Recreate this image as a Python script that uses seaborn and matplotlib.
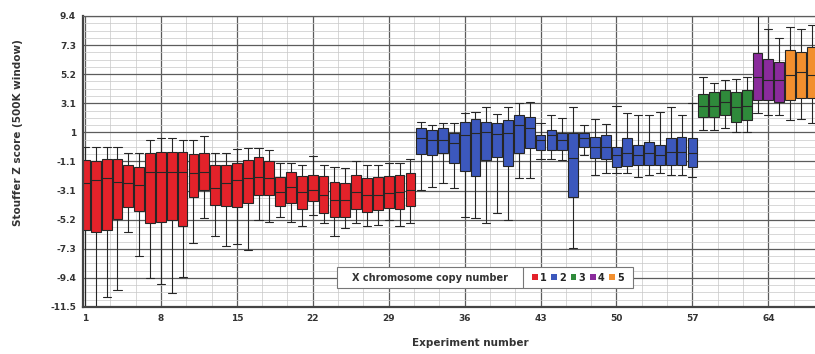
import pandas as pd
import numpy as np
import matplotlib.pyplot as plt
import matplotlib.ticker as mticker
from matplotlib.patches import Patch, Rectangle
import seaborn as sns

# Box summaries (experiment 1..68)
experiments = list(range(1, 69))
copy_number = ["1"] * 31 + ["2"] * 26 + ["3"] * 5 + ["4"] * 3 + ["5"] * 3

whisker_high = [0.0, 0.0, 0.0, 0.0, -0.44, -0.44, 0.49, 0.64, 0.64, 0.49,
                0.49, 0.78, -0.44, -0.44, -0.15, -0.08, -0.08, -0.23, -1.16, -1.16,
                -1.3, -0.66, -1.3, -1.45, -1.5, -1.0, -1.3, -1.3, -1.16, -1.16,
                -0.87,
                1.8, 1.57, 1.71, 1.71, 2.43, 2.5, 2.86, 2.36, 2.86, 3.15,
                3.22, 1.71, 2.3, 2.07, 2.86, 1.57, 2.0, 1.64, 2.93, 2.43,
                2.3, 2.3, 2.5, 2.86, 2.3, 3.15,
                5.02, 4.6, 4.8, 4.87, 5.02,
                9.4, 8.47, 7.82,
                8.6, 8.47, 8.75]
q3 = [-0.94, -1.0, -0.87, -0.87, -1.3, -1.45, -0.44, -0.37, -0.37, -0.37,
      -0.51, -0.44, -1.3, -1.3, -1.16, -0.94, -0.73, -1.0, -2.17, -1.8,
      -2.1, -2.0, -2.1, -2.5, -2.6, -2.0, -2.24, -2.17, -2.1, -2.0,
      -1.88,
      1.35, 1.2, 1.35, 1.0, 1.8, 2.0, 1.8, 1.71, 1.93, 2.3,
      2.15, 0.85, 1.2, 1.0, 1.0, 1.0, 0.71, 0.85, -0.01, 0.64,
      0.13, 0.35, 0.13, 0.64, 0.71, 0.64,
      3.8, 3.94, 4.08, 3.94, 4.08,
      6.74, 6.3, 6.1,
      6.96, 6.8, 7.17]
median = [-2.6, -2.4, -2.24, -2.5, -2.6, -2.74, -1.8, -1.8, -1.8, -1.8,
          -1.9, -1.8, -2.96, -2.6, -2.4, -2.24, -2.17, -2.24, -3.24, -2.9,
          -3.24, -3.1, -3.46, -3.8, -3.8, -3.24, -3.46, -3.46, -3.3, -3.24,
          -3.1,
          0.64, 0.49, 0.49, 0.28, 0.85, 1.0, 1.07, 0.92, 1.0, 1.57,
          1.35, 0.49, 0.85, 0.49, -0.8, 0.64, -0.01, 0.0, -0.58, -0.44,
          -0.58, -0.44, -0.58, -0.37, -0.37, -0.44,
          2.93, 2.93, 3.22, 2.86, 2.93,
          5.02, 4.8, 4.8,
          5.16, 5.38, 5.16]
q1 = [-5.97, -6.1, -5.97, -5.2, -4.3, -4.6, -5.47, -5.4, -5.25, -5.7,
      -3.6, -3.1, -4.2, -4.25, -4.3, -4.03, -3.46, -3.46, -4.25, -4.03,
      -4.46, -3.9, -4.75, -5.04, -5.04, -4.46, -4.68, -4.54, -4.4, -4.46,
      -4.25,
      -0.51, -0.59, -0.44, -1.16, -1.74, -2.1, -0.94, -0.73, -1.38, -0.44,
      -0.08, -0.23, -0.23, -0.23, -3.6, -0.01, -0.8, -0.87, -1.45, -1.38,
      -1.3, -1.3, -1.3, -1.3, -1.3, -1.45,
      2.14, 2.14, 2.29, 1.78, 1.93,
      3.37, 3.37, 3.22,
      3.37, 3.5, 3.5]
whisker_low = [-11.5, -11.5, -10.8, -10.3, -6.1, -7.84, -9.42, -9.85, -10.5, -9.35,
               -6.9, -5.1, -6.4, -7.1, -7.0, -7.4, -5.26, -5.4, -5.04, -5.4,
               -5.7, -4.9, -5.5, -6.4, -5.8, -5.5, -5.7, -5.6, -5.26, -5.7,
               -5.47,
               -3.1, -2.9, -2.6, -2.96, -5.04, -5.1, -5.5, -4.75, -5.26, -2.24,
               -2.24, -0.87, -0.87, -0.94, -7.27, -0.58, -2.0, -1.88, -1.88, -1.88,
               -2.17, -2.03, -1.88, -2.03, -2.03, -2.17,
               1.2, 1.2, 1.35, 1.07, 1.07,
               2.43, 2.29, 2.29,
               1.93, 2.0, 1.71]

copy_levels = ["1", "2", "3", "4", "5"]
copy_colors = ["#e3222a", "#3c58bd", "#2f8a3b", "#8a2b9c", "#f28f2e"]
x_tick_labels = ["1", "8", "15", "22", "29", "36", "43", "50", "57", "64"]
y_tick_labels = ["-11.5", "-9.4", "-7.3", "-5.2", "-3.1", "-1.1", "1", "3.1", "5.2", "7.3", "9.4"]

# five values per experiment -> quartiles land exactly on the read values
rows = []
for i, exp in enumerate(experiments):
    for v in (whisker_low[i], q1[i], median[i], q3[i], whisker_high[i]):
        rows.append({"experiment": exp, "z": v, "copies": copy_number[i]})
df = pd.DataFrame(rows)

sns.set_style("whitegrid")
plt.rcParams["font.family"] = ["DejaVu Sans"]

fig = plt.figure(figsize=(8.15, 3.54), dpi=100)
ax = fig.add_axes([83 / 815, 1 - 307 / 354, 732 / 815, 291 / 354])

sns.boxplot(data=df, x="experiment", y="z", hue="copies", hue_order=copy_levels,
            palette=dict(zip(copy_levels, copy_colors)), dodge=False, width=0.9,
            whis=(0, 100), showfliers=False, saturation=1, linecolor="#262626",
            linewidth=0.8, legend=False, capwidths=0.75, ax=ax)

# axes / grid
ax.set_xlim(-0.18, 67.3)
ax.set_ylim(-11.5, 9.4)
ax.set_xticks(range(0, 64, 7))
ax.set_xticklabels(x_tick_labels)
ax.set_yticks(np.linspace(-11.5, 9.4, 11))
ax.set_yticklabels(y_tick_labels)
ax.xaxis.set_minor_locator(mticker.MultipleLocator(7 / 3))
ax.yaxis.set_minor_locator(mticker.FixedLocator(np.linspace(-11.5, 9.4, 41)))
ax.set_axisbelow(True)
ax.grid(which="major", axis="both", color="#5c5c5c", linewidth=0.9)
ax.grid(which="minor", axis="both", color="#c8c8c8", linewidth=0.5)
ax.tick_params(which="major", length=3, width=0.8, color="#333333", pad=2,
               labelsize=6.5, labelcolor="#333333")
ax.tick_params(which="minor", length=0)
for lab in ax.get_xticklabels() + ax.get_yticklabels():
    lab.set_fontweight("bold")

for side in ["left", "bottom"]:
    ax.spines[side].set_color("#444444")
    ax.spines[side].set_linewidth(1.6)
ax.spines["top"].set_color("#5c5c5c")
ax.spines["top"].set_linewidth(0.9)
ax.spines["right"].set_visible(False)

ax.set_xlabel("Experiment number", fontsize=7.5, fontweight="bold", color="#333333")
ax.set_ylabel("Stouffer Z score (500K window)", fontsize=7.5, fontweight="bold", color="#333333")
ax.xaxis.set_label_coords(0.529, -0.105)
ax.yaxis.set_label_coords(-0.082, 0.60)

# legend strip at the bottom
ax.add_patch(Rectangle((0.347, 0.065), 0.404, 0.072, transform=ax.transAxes,
                       facecolor="white", edgecolor="#777777", linewidth=0.8, zorder=4))
ax.plot([0.601, 0.601], [0.065, 0.137], transform=ax.transAxes, color="#777777",
        linewidth=0.8, zorder=4.5)
ax.text(0.474, 0.101, "X chromosome copy number", transform=ax.transAxes,
        ha="center", va="center", fontsize=7, fontweight="bold", color="#333333", zorder=6)
handles = [Patch(facecolor=c, edgecolor="none") for c in copy_colors]
leg = ax.legend(handles, copy_levels, ncol=5, loc="center", bbox_to_anchor=(0.676, 0.101),
                frameon=False, handlelength=0.6, handleheight=0.6, handletextpad=0.2,
                columnspacing=0.5, borderpad=0, prop={"weight": "bold", "size": 7})
leg.set_zorder(6)

fig.savefig("out.png", dpi=100)
